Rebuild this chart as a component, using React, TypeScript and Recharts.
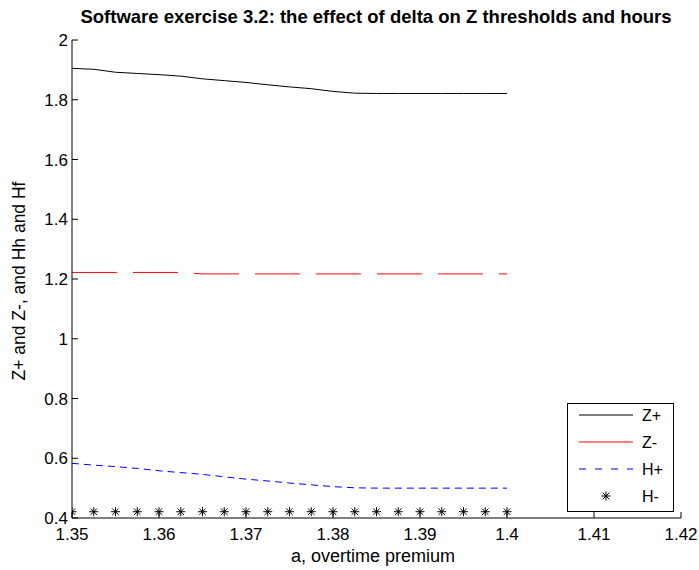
import { LineChart, Line, XAxis, YAxis } from "recharts"

// a, overtime premium
const X_VALUES = [
  1.35, 1.3525, 1.355, 1.3575, 1.36, 1.3625, 1.365, 1.3675, 1.37, 1.3725, 1.375,
  1.3775, 1.38, 1.3825, 1.385, 1.3875, 1.39, 1.3925, 1.395, 1.3975, 1.4,
]
const Z_PLUS = [
  1.905, 1.902, 1.892, 1.888, 1.884, 1.879, 1.87, 1.864, 1.858, 1.85, 1.843,
  1.837, 1.828, 1.822, 1.821, 1.821, 1.821, 1.821, 1.821, 1.821, 1.821,
]
const Z_MINUS = [
  1.222, 1.222, 1.222, 1.222, 1.222, 1.222, 1.217, 1.217, 1.217, 1.217, 1.217,
  1.217, 1.217, 1.217, 1.217, 1.217, 1.217, 1.217, 1.217, 1.217, 1.217,
]
const H_PLUS = [
  0.583, 0.577, 0.572, 0.566, 0.558, 0.552, 0.546, 0.538, 0.53, 0.524, 0.517,
  0.511, 0.505, 0.501, 0.5, 0.5, 0.5, 0.5, 0.5, 0.5, 0.5,
]
const H_MINUS = [
  0.421, 0.421, 0.421, 0.421, 0.421, 0.421, 0.421, 0.421, 0.421, 0.421, 0.421,
  0.421, 0.421, 0.421, 0.421, 0.421, 0.421, 0.421, 0.421, 0.421, 0.421,
]
const X_TICKS = [1.35, 1.36, 1.37, 1.38, 1.39, 1.4, 1.41, 1.42]
const Y_TICKS = [0.4, 0.6, 0.8, 1, 1.2, 1.4, 1.6, 1.8, 2]

const data = X_VALUES.map((x, i) => ({
  x,
  zp: Z_PLUS[i],
  zm: Z_MINUS[i],
  hp: H_PLUS[i],
  hm: H_MINUS[i],
}))

const FONT = "'Liberation Sans', Arial, sans-serif"
const TICK_LEN = 6

// matlab style ticks, pointing into the box
function BottomTick(props: any) {
  const { x, y, payload } = props
  return (
    <g>
      <line x1={x} x2={x} y1={y} y2={y - TICK_LEN} stroke="#000" />
      <text x={x} y={y + 22} textAnchor="middle" fontSize={17} fontFamily={FONT} fill="#000">
        {String(payload.value)}
      </text>
    </g>
  )
}

function TopTick(props: any) {
  const { x, y } = props
  return <line x1={x} x2={x} y1={y} y2={y + TICK_LEN} stroke="#000" />
}

function LeftTick(props: any) {
  const { x, y, payload } = props
  return (
    <g>
      <line x1={x} x2={x + TICK_LEN} y1={y} y2={y} stroke="#000" />
      <text x={x - 4} y={y + 6} textAnchor="end" fontSize={17} fontFamily={FONT} fill="#000">
        {String(payload.value)}
      </text>
    </g>
  )
}

function RightTick(props: any) {
  const { x, y } = props
  return <line x1={x} x2={x - TICK_LEN} y1={y} y2={y} stroke="#000" />
}

function Star(props: any) {
  const { cx, cy, index } = props
  const r = 4.5
  const d = r * 0.72
  return (
    <g key={`star-${index}`} stroke="#000" strokeWidth={1}>
      <line x1={cx - r} x2={cx + r} y1={cy} y2={cy} />
      <line x1={cx} x2={cx} y1={cy - r} y2={cy + r} />
      <line x1={cx - d} x2={cx + d} y1={cy - d} y2={cy + d} />
      <line x1={cx - d} x2={cx + d} y1={cy + d} y2={cy - d} />
    </g>
  )
}

export default function App() {
  return (
    <div style={{ position: "absolute", left: 0, top: 0, width: 699, height: 570, background: "#fff" }}>
      <LineChart
        width={699}
        height={570}
        data={data}
        margin={{ top: 40, right: 18, bottom: 0, left: 0 }}
      >
        <XAxis
          xAxisId="b"
          type="number"
          dataKey="x"
          domain={[1.35, 1.42]}
          ticks={X_TICKS}
          allowDataOverflow
          height={52}
          tickSize={0}
          tickMargin={0}
          tick={<BottomTick />}
          axisLine={{ stroke: "#000" }}
          interval={0}
        />
        <XAxis
          xAxisId="t"
          orientation="top"
          type="number"
          dataKey="x"
          domain={[1.35, 1.42]}
          ticks={X_TICKS}
          allowDataOverflow
          height={0}
          tickSize={0}
          tickMargin={0}
          tick={<TopTick />}
          axisLine={{ stroke: "#000" }}
          interval={0}
        />
        <YAxis
          yAxisId="l"
          type="number"
          domain={[0.4, 2]}
          ticks={Y_TICKS}
          allowDataOverflow
          width={72}
          tickSize={0}
          tickMargin={0}
          tick={<LeftTick />}
          axisLine={{ stroke: "#000" }}
          interval={0}
        />
        <YAxis
          yAxisId="r"
          orientation="right"
          type="number"
          domain={[0.4, 2]}
          ticks={Y_TICKS}
          allowDataOverflow
          width={0}
          tickSize={0}
          tickMargin={0}
          tick={<RightTick />}
          axisLine={{ stroke: "#000" }}
          interval={0}
        />
        <Line
          xAxisId="t"
          yAxisId="r"
          dataKey="zp"
          stroke="none"
          dot={false}
          activeDot={false}
          isAnimationActive={false}
        />
        <Line
          xAxisId="b"
          yAxisId="l"
          type="linear"
          dataKey="zp"
          stroke="#000"
          strokeWidth={1}
          dot={false}
          isAnimationActive={false}
        />
        <Line
          xAxisId="b"
          yAxisId="l"
          type="linear"
          dataKey="zm"
          stroke="#ff0000"
          strokeWidth={1}
          strokeDasharray="45 16"
          dot={false}
          isAnimationActive={false}
        />
        <Line
          xAxisId="b"
          yAxisId="l"
          type="linear"
          dataKey="hp"
          stroke="#0000ff"
          strokeWidth={1}
          strokeDasharray="7 5"
          dot={false}
          isAnimationActive={false}
        />
        <Line
          xAxisId="b"
          yAxisId="l"
          type="linear"
          dataKey="hm"
          stroke="none"
          dot={<Star />}
          isAnimationActive={false}
        />
      </LineChart>

      {/* title, axis labels and legend drawn over the chart */}
      <svg
        width={699}
        height={570}
        style={{ position: "absolute", left: 0, top: 0, pointerEvents: "none" }}
        fontFamily={FONT}
      >
        <text x={376} y={23} textAnchor="middle" fontSize={18.5} fontWeight="bold" fill="#000">
          Software exercise 3.2: the effect of delta on Z thresholds and hours
        </text>
        <text x={373} y={562} textAnchor="middle" fontSize={18} fill="#000">
          a, overtime premium
        </text>
        <text
          x={25}
          y={281}
          textAnchor="middle"
          fontSize={17.5}
          fill="#000"
          transform="rotate(-90 25 281)"
        >
          Z+ and Z-, and Hh and Hf
        </text>

        <g>
          <rect x={567.5} y={403.5} width={106} height={108} fill="#fff" stroke="#000" />
          <line x1={579} x2={633} y1={415} y2={415} stroke="#000" />
          <text x={642} y={421} fontSize={16} fill="#000">Z+</text>
          <line x1={579} x2={633} y1={442} y2={442} stroke="#ff0000" />
          <text x={642} y={448} fontSize={16} fill="#000">Z-</text>
          <line x1={579} x2={633} y1={469} y2={469} stroke="#0000ff" strokeDasharray="7 9" />
          <text x={642} y={475} fontSize={16} fill="#000">H+</text>
          <Star cx={606} cy={496} index={99} />
          <text x={642} y={502} fontSize={16} fill="#000">H-</text>
        </g>
      </svg>
    </div>
  )
}
